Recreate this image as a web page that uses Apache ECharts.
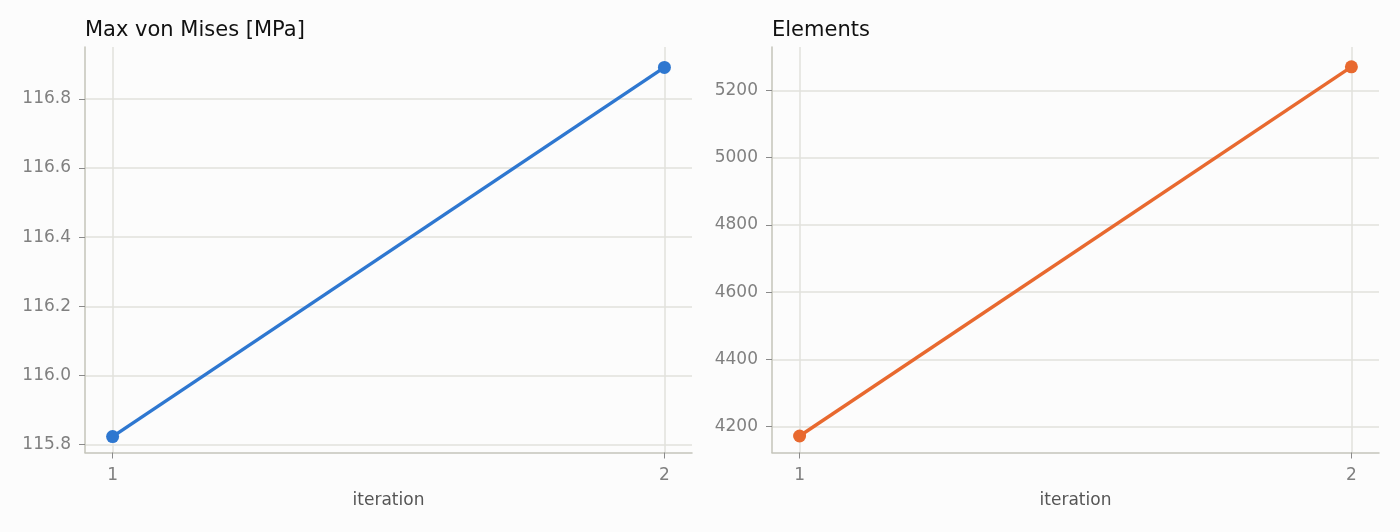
<!DOCTYPE html>
<html>
<head>
<meta charset="utf-8">
<script src="https://cdn.jsdelivr.net/npm/echarts@6/dist/echarts.min.js"></script>
<style>
html,body{margin:0;padding:0;background:#fcfcfc;}
#c{width:1400px;height:532px;}
</style>
</head>
<body>
<div id="c"></div>
<script>
const iterations = [1, 2];
const vonMises = [115.823, 116.891];
const elements = [4172, 5270];
const vonMisesTicks = [115.8, 116.0, 116.2, 116.4, 116.6, 116.8];
const elementTicks = [4200, 4400, 4600, 4800, 5000, 5200];
const titles = ['Max von Mises [MPa]', 'Elements'];
const vonMisesRange = [115.777, 116.95];
const elementRange = [4123, 5329];

const FONT = 'DejaVu Sans';
const axisLineColor = '#c4c4ba';
const gridColor = '#e2e2dc';
const labelColor = '#808080';

function xAxis(gi) {
  return {
    type: 'value', gridIndex: gi, min: 0.95, max: 2.05,
    name: 'iteration', nameLocation: 'middle', nameGap: 40,
    nameTextStyle: {fontFamily: FONT, fontSize: 17, color: '#555'},
    axisLine: {show: true, lineStyle: {color: axisLineColor, width: 1.5}},
    axisTick: {show: true, customValues: iterations, length: 6, lineStyle: {color: '#8a8a8a'}},
    axisLabel: {customValues: iterations, margin: 15, fontFamily: FONT, fontSize: 17, color: labelColor},
    splitLine: {show: true, lineStyle: {color: gridColor, width: 1.5}}
  };
}
function yAxis(gi, range, ticks, digits) {
  return {
    type: 'value', gridIndex: gi, min: range[0], max: range[1],
    axisLine: {show: true, lineStyle: {color: axisLineColor, width: 1.5}},
    axisTick: {show: true, customValues: ticks, length: 6, lineStyle: {color: '#8a8a8a'}},
    axisLabel: {customValues: ticks, margin: 14, fontFamily: FONT, fontSize: 17, color: labelColor,
      formatter: v => Number(v).toFixed(digits)},
    splitLine: {show: true, lineStyle: {color: gridColor, width: 1.5}}
  };
}
function series(gi, data, color) {
  return {
    type: 'line', xAxisIndex: gi, yAxisIndex: gi,
    data: iterations.map((x, i) => [x, data[i]]),
    symbol: 'circle', symbolSize: 13, showSymbol: true,
    lineStyle: {color: color, width: 3.4},
    itemStyle: {color: color},
    animation: false
  };
}
const chart = echarts.init(document.getElementById('c'), null, {renderer: 'canvas'});
chart.setOption({
  backgroundColor: '#fcfcfc',
  animation: false,
  title: [
    {text: titles[0], left: 85, top: 20, padding: 0, textStyle: {fontFamily: FONT, fontSize: 21, fontWeight: 'normal', color: '#111'}},
    {text: titles[1], left: 772, top: 20, padding: 0, textStyle: {fontFamily: FONT, fontSize: 21, fontWeight: 'normal', color: '#111'}}
  ],
  grid: [
    {left: 85, right: 708, top: 47, bottom: 79.5},
    {left: 772, right: 21, top: 47, bottom: 79.5}
  ],
  xAxis: [xAxis(0), xAxis(1)],
  yAxis: [yAxis(0, vonMisesRange, vonMisesTicks, 1), yAxis(1, elementRange, elementTicks, 0)],
  series: [series(0, vonMises, '#2e77d0'), series(1, elements, '#e8692f')]
});
</script>
</body>
</html>
